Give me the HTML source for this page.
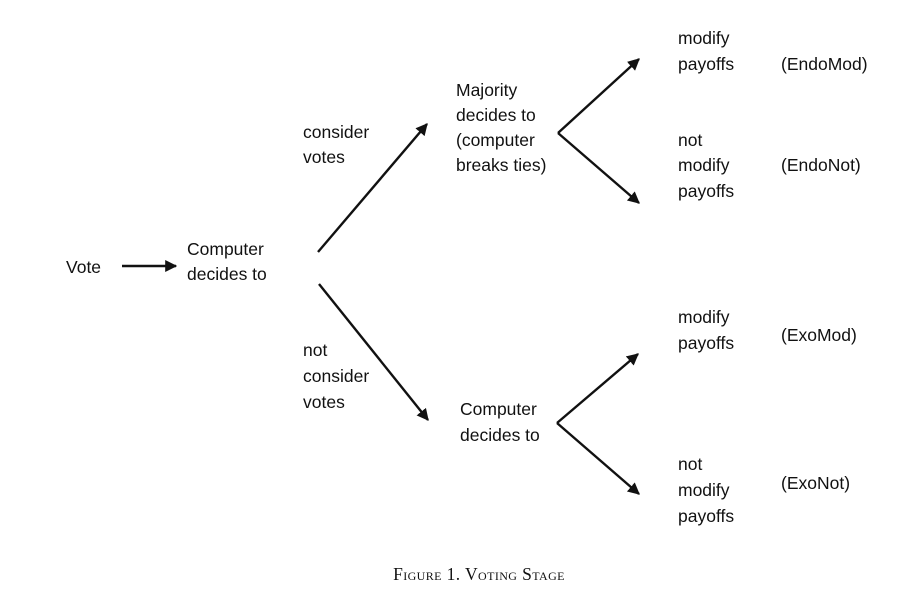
<!DOCTYPE html>
<html><head><meta charset="utf-8"><style>
html,body{margin:0;padding:0;background:#fff;}
svg{display:block;}
text{font-family:"Liberation Sans",Arial,sans-serif;font-size:17.5px;fill:#111;}
.cap{font-family:"Liberation Serif",serif;font-size:17.5px;font-variant:small-caps;letter-spacing:0.4px;}
</style></head><body>
<svg width="908" height="592" viewBox="0 0 908 592" xmlns="http://www.w3.org/2000/svg">
<defs><marker id="a" viewBox="0 0 10 10" refX="9" refY="5" markerWidth="5" markerHeight="5" orient="auto"><path d="M0,0 L10,5 L0,10 z" fill="#111"/></marker></defs>
<g stroke="#111" stroke-width="2.4" fill="none">
<line x1="122" y1="266" x2="176" y2="266" marker-end="url(#a)"/>
<line x1="318" y1="252" x2="427" y2="124" marker-end="url(#a)"/>
<line x1="319" y1="284" x2="428" y2="420" marker-end="url(#a)"/>
<line x1="558" y1="133" x2="639" y2="59" marker-end="url(#a)"/>
<line x1="558" y1="133" x2="639" y2="203" marker-end="url(#a)"/>
<line x1="557" y1="423" x2="638" y2="354" marker-end="url(#a)"/>
<line x1="557" y1="423" x2="639" y2="494" marker-end="url(#a)"/>
</g>
<text x="66" y="273">Vote</text>
<text x="187" y="255">Computer</text>
<text x="187" y="280">decides to</text>
<text x="303" y="138">consider</text>
<text x="303" y="163">votes</text>
<text x="303" y="356">not</text>
<text x="303" y="382">consider</text>
<text x="303" y="408">votes</text>
<text x="456" y="96">Majority</text>
<text x="456" y="121">decides to</text>
<text x="456" y="146">(computer</text>
<text x="456" y="171">breaks ties)</text>
<text x="460" y="415">Computer</text>
<text x="460" y="441">decides to</text>
<text x="678" y="44">modify</text>
<text x="678" y="70">payoffs</text>
<text x="781" y="70">(EndoMod)</text>
<text x="678" y="146">not</text>
<text x="678" y="171">modify</text>
<text x="678" y="197">payoffs</text>
<text x="781" y="171">(EndoNot)</text>
<text x="678" y="323">modify</text>
<text x="678" y="349">payoffs</text>
<text x="781" y="341">(ExoMod)</text>
<text x="678" y="470">not</text>
<text x="678" y="496">modify</text>
<text x="678" y="522">payoffs</text>
<text x="781" y="489">(ExoNot)</text>
<text class="cap" x="479" y="580" text-anchor="middle">Figure 1. Voting Stage</text>
</svg>
</body></html>
